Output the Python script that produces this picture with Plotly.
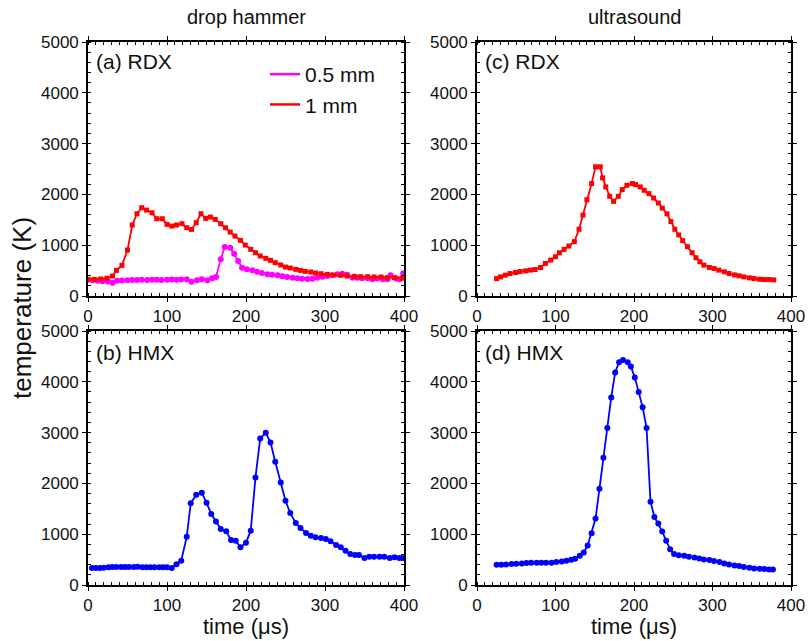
import plotly.graph_objects as go

# ---------------- data ----------------
# (a) drop hammer RDX, 1 mm
a_1mm_t = [0, 8, 16, 24, 31, 36, 43, 50, 56, 62, 68, 74, 81, 87, 94, 100, 106, 112, 119, 125,
           131, 137, 143, 149, 155, 161, 168, 174, 180, 186, 193, 199, 206, 212, 218, 225, 231,
           237, 244, 250, 256, 263, 269, 275, 282, 288, 295, 303, 311, 320, 328, 337, 345, 354,
           362, 371, 379, 388, 398]
a_1mm_T = [328, 328, 335, 350, 393, 505, 603, 905, 1397, 1620, 1738, 1692, 1639, 1521, 1521, 1410,
           1377, 1397, 1423, 1344, 1311, 1443, 1620, 1528, 1554, 1508, 1423, 1344, 1259, 1180, 1095,
           1003, 918, 852, 787, 741, 702, 656, 610, 570, 551, 525, 505, 485, 472, 452, 439, 426,
           413, 407, 393, 387, 380, 380, 374, 374, 361, 361, 348]
# (a) drop hammer RDX, 0.5 mm
a_05mm_t = [0, 6, 12, 18, 25, 31, 37, 43, 50, 56, 62, 68, 75, 81, 87, 93, 100, 106, 112, 118,
            125, 131, 138, 144, 151, 157, 162, 168, 173, 180, 185, 190, 195, 201, 208, 214, 220,
            227, 233, 240, 246, 252, 259, 265, 271, 278, 284, 290, 297, 303, 309, 316, 322, 328,
            335, 341, 347, 354, 360, 366, 373, 379, 383, 390, 394, 399]
a_05mm_T = [320, 310, 300, 290, 285, 262, 300, 305, 310, 315, 315, 320, 315, 320, 320, 315, 320,
            325, 320, 325, 328, 282, 308, 328, 308, 348, 374, 721, 964, 951, 833, 689, 557, 525,
            505, 479, 452, 426, 420, 407, 387, 374, 361, 348, 341, 334, 341, 361, 380, 393, 407,
            426, 439, 420, 361, 361, 348, 348, 328, 345, 330, 330, 407, 345, 330, 446]
# (b) drop hammer HMX
b_t = [5, 10, 15, 20, 26, 31, 36, 42, 47, 52, 58, 63, 69, 74, 79, 84, 90, 95, 100, 106, 112,
       118, 125, 130, 137, 144, 150, 156, 162, 168, 175, 181, 187, 193, 200, 206, 212, 218, 225,
       231, 237, 244, 250, 256, 263, 269, 276, 282, 288, 295, 301, 307, 314, 320, 326, 332, 338,
       343, 350, 356, 362, 369, 375, 382, 388, 394, 398]
b_T = [334, 334, 334, 341, 348, 354, 354, 354, 354, 354, 354, 361, 348, 348, 348, 348, 348, 348,
       348, 334, 407, 479, 951, 1607, 1777, 1816, 1620, 1397, 1252, 1102, 1056, 885, 872, 741, 833,
       1069, 2118, 2885, 2997, 2807, 2426, 2020, 1659, 1416, 1220, 1121, 1023, 970, 938, 925, 905,
       859, 787, 741, 675, 610, 590, 590, 531, 557, 557, 557, 557, 531, 544, 531, 531]
# (c) ultrasound RDX
c_t = [25, 30, 36, 42, 49, 55, 62, 68, 74, 81, 87, 94, 100, 105, 111, 117, 124, 130, 135, 140,
       146, 151, 157, 160, 164, 169, 174, 180, 185, 191, 198, 202, 208, 213, 219, 225, 231, 236,
       242, 247, 252, 257, 262, 268, 274, 279, 284, 289, 296, 302, 308, 315, 321, 328, 334, 340,
       347, 353, 360, 366, 372, 378]
c_T = [343, 376, 410, 442, 462, 482, 495, 509, 522, 561, 641, 707, 773, 852, 918, 984, 1070, 1314,
       1592, 1896, 2213, 2543, 2543, 2325, 2147, 1962, 1863, 1962, 2094, 2180, 2213, 2193, 2147,
       2081, 2015, 1929, 1830, 1731, 1618, 1466, 1314, 1202, 1090, 971, 852, 753, 674, 608, 561,
       542, 509, 476, 443, 416, 396, 376, 357, 343, 330, 324, 324, 317]
# (d) ultrasound HMX
d_t = [25, 31, 37, 44, 50, 57, 63, 69, 76, 82, 88, 95, 101, 108, 114, 120, 125, 131, 136, 141,
       146, 151, 156, 161, 166, 171, 176, 181, 186, 192, 196, 201, 206, 211, 216, 221, 226, 231,
       236, 241, 246, 251, 257, 264, 270, 277, 283, 289, 296, 302, 309, 315, 321, 328, 334, 340,
       347, 353, 360, 366, 372, 377]
d_T = [399, 399, 405, 412, 418, 425, 431, 438, 438, 438, 438, 438, 451, 464, 477, 497, 516, 575,
       641, 778, 1020, 1307, 1895, 2503, 3092, 3693, 4183, 4386, 4431, 4386, 4301, 4085, 3797,
       3497, 3092, 1641, 1340, 1209, 1052, 869, 706, 608, 588, 575, 556, 542, 523, 503, 490, 471,
       451, 425, 405, 386, 373, 353, 340, 327, 320, 314, 307, 307]

x_ticks = [0, 100, 200, 300, 400]
y_ticks = [0, 1000, 2000, 3000, 4000, 5000]

RED = "#ff0000"
MAG = "#ff00ff"
BLUE = "#0000ff"
FONT = "Liberation Sans, Arial, sans-serif"

W, H = 809, 641
# panel pixel boxes: (left, right, top, bottom)
boxes = {
    1: (88, 404, 42, 296),   # a
    2: (88, 404, 331, 585),  # b
    3: (477, 791, 42, 296),  # c
    4: (477, 791, 331, 585), # d
}

fig = go.Figure()

def add(t, T, color, symbol, size, idx, name=None):
    fig.add_trace(go.Scatter(
        x=t, y=T, mode="lines+markers",
        line=dict(color=color, width=1.8),
        marker=dict(color=color, symbol=symbol, size=size),
        xaxis="x" if idx == 1 else f"x{idx}", yaxis="y" if idx == 1 else f"y{idx}",
        showlegend=False, name=name or ""))

add(a_05mm_t, a_05mm_T, MAG, "circle", 6, 1)
add(a_1mm_t, a_1mm_T, RED, "square", 5, 1)
add(b_t, b_T, BLUE, "circle", 6, 2)
add(c_t, c_T, RED, "square", 5, 3)
add(d_t, d_T, BLUE, "circle", 6, 4)

# legend-only traces (line samples)
for nm, col in [("0.5 mm", MAG), ("1 mm", RED)]:
    fig.add_trace(go.Scatter(x=[None], y=[None], mode="lines", name=nm,
                             line=dict(color=col, width=2.5), showlegend=True))

layout = {}
for idx, (l, r, t, b) in boxes.items():
    xs = "xaxis" if idx == 1 else f"xaxis{idx}"
    ys = "yaxis" if idx == 1 else f"yaxis{idx}"
    xa = "x" if idx == 1 else f"x{idx}"
    ya = "y" if idx == 1 else f"y{idx}"
    layout[xs] = dict(
        domain=[l / W, r / W], anchor=ya, range=[0, 400], automargin=False,
        tickvals=x_ticks, ticktext=[str(v) for v in x_ticks],
        ticks="outside", ticklen=4, tickwidth=1.3, tickcolor="black",
        minor=dict(dtick=10, tick0=0, ticks="inside", ticklen=3, tickwidth=1, tickcolor="black"),
        showline=True, linecolor="black", linewidth=1.6, mirror="ticks",
        showgrid=False, zeroline=False,
        tickfont=dict(family=FONT, size=17, color="#111111"),
    )
    layout[ys] = dict(
        domain=[1 - b / H, 1 - t / H], anchor=xa, range=[0, 5000], automargin=False,
        tickvals=y_ticks, ticktext=[str(v) for v in y_ticks],
        ticks="outside", ticklen=4, tickwidth=1.3, tickcolor="black",
        minor=dict(dtick=200, tick0=0, ticks="inside", ticklen=3, tickwidth=1, tickcolor="black"),
        showline=True, linecolor="black", linewidth=1.6, mirror="ticks",
        showgrid=False, zeroline=False,
        tickfont=dict(family=FONT, size=17, color="#111111"),
    )

ann = []
def pa(x, y, text, size, xanchor="center", yanchor="middle", **kw):
    d = dict(x=x / W, y=1 - y / H, xref="paper", yref="paper", text=text, showarrow=False,
             xanchor=xanchor, yanchor=yanchor,
             font=dict(family=FONT, size=size, color="#111111"))
    d.update(kw)
    ann.append(d)

pa(246, 17, "drop hammer", 20)
pa(634, 17, "ultrasound", 20)
pa(246, 641, "time (\u03bcs)", 22, yanchor="bottom")
pa(634, 641, "time (\u03bcs)", 22, yanchor="bottom")
pa(22, 308, "temperature (K)", 26, textangle=-90)
pa(94, 62, "(a) RDX", 21, xanchor="left")
pa(94, 352, "(b) HMX", 21, xanchor="left")
pa(483, 62, "(c) RDX", 21, xanchor="left")
pa(483, 352, "(d) HMX", 21, xanchor="left")

fig.update_layout(
    template="none",
    width=W, height=H,
    margin=dict(l=0, r=0, t=0, b=0, autoexpand=False),
    paper_bgcolor="white", plot_bgcolor="white",
    annotations=ann,
    legend=dict(x=265 / W, y=1 - 54 / H, xanchor="left", yanchor="top",
                bgcolor="rgba(0,0,0,0)", font=dict(family=FONT, size=21, color="#111111"),
                tracegroupgap=0, itemwidth=30),
    **layout,
)

fig.write_html("out.html")
